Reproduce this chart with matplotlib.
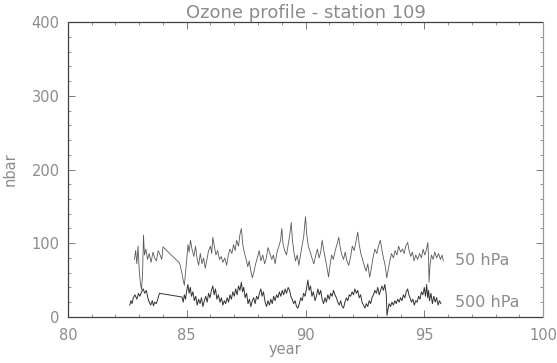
import matplotlib
matplotlib.use("Agg")
import matplotlib.pyplot as plt
from matplotlib.ticker import MultipleLocator

# ozone partial pressure, 50 hPa level
year_50 = [82.80, 82.85, 82.90, 82.95, 83.00, 83.05, 83.10, 83.14, 83.18, 83.22,
           83.28, 83.35, 83.42, 83.50, 83.58, 83.65, 83.72, 83.80, 83.88, 83.95,
           84.00, 84.70, 84.78, 84.85, 84.90, 84.95, 85.00, 85.05, 85.10, 85.16,
           85.22, 85.30, 85.37, 85.44, 85.50, 85.57, 85.64, 85.71, 85.78, 85.85,
           85.92, 86.00, 86.05, 86.10, 86.16, 86.23, 86.30, 86.38, 86.45, 86.52,
           86.60, 86.68, 86.75, 86.82, 86.90, 86.97, 87.04, 87.10, 87.18, 87.24,
           87.30, 87.36, 87.42, 87.50, 87.57, 87.63, 87.70, 87.76, 87.82, 87.90,
           87.97, 88.05, 88.12, 88.20, 88.28, 88.35, 88.42, 88.50, 88.58, 88.65,
           88.72, 88.80, 88.88, 88.95, 89.00, 89.05, 89.12, 89.20, 89.27, 89.33,
           89.40, 89.45, 89.52, 89.58, 89.65, 89.72, 89.78, 89.85, 89.92, 90.00,
           90.05, 90.12, 90.20, 90.27, 90.35, 90.42, 90.50, 90.57, 90.64, 90.70,
           90.77, 90.85, 90.92, 90.97, 91.03, 91.10, 91.17, 91.25, 91.32, 91.40,
           91.46, 91.53, 91.60, 91.67, 91.74, 91.82, 91.90, 91.97, 92.05, 92.12,
           92.20, 92.26, 92.33, 92.40, 92.47, 92.55, 92.62, 92.70, 92.77, 92.84,
           92.92, 93.00, 93.07, 93.15, 93.22, 93.28, 93.35, 93.42, 93.48, 93.55,
           93.62, 93.70, 93.77, 93.85, 93.92, 94.00, 94.08, 94.15, 94.22, 94.30,
           94.36, 94.43, 94.50, 94.57, 94.64, 94.72, 94.80, 94.88, 94.95, 95.02,
           95.08, 95.15, 95.18, 95.20, 95.24, 95.30, 95.37, 95.44, 95.52, 95.60,
           95.68, 95.75, 95.80]
ozone_50 = [78, 90, 72, 96, 64, 45, 37, 58, 111, 84,
            92, 78, 86, 74, 88, 80, 76, 90, 84, 78,
            95, 73, 62, 50, 43, 60, 78, 98, 88, 104,
            92, 82, 96, 78, 70, 86, 72, 80, 66, 78,
            90, 96, 86, 108, 96, 84, 90, 78, 82, 74,
            80, 70, 84, 92, 86, 98, 90, 104, 96, 112,
            120, 98, 88, 78, 68, 76, 62, 53, 60, 72,
            80, 90, 76, 84, 72, 80, 94, 86, 78, 84,
            72, 88, 96, 104, 120, 100, 90, 84, 98, 110,
            128, 104, 86, 76, 84, 70, 82, 96, 108, 136,
            112, 96, 88, 80, 72, 82, 92, 80, 88, 104,
            90, 76, 64, 54, 70, 84, 78, 90, 98, 108,
            94, 84, 78, 88, 76, 70, 82, 96, 90, 102,
            115, 98, 86, 78, 70, 62, 72, 54, 66, 80,
            92, 86, 96, 104, 90, 80, 70, 53, 64, 76,
            86, 80, 90, 84, 96, 88, 92, 86, 96, 101,
            90, 82, 88, 76, 84, 78, 86, 80, 92, 84,
            90, 101, 80, 47, 70, 84, 78, 88, 80, 86,
            78, 84, 76]

# ozone partial pressure, 500 hPa level
year_500 = [82.60, 82.65, 82.70, 82.75, 82.82, 82.90, 82.97, 83.03, 83.10, 83.17,
            83.23, 83.30, 83.36, 83.42, 83.48, 83.55, 83.60, 83.65, 83.72, 83.78,
            83.85, 84.80, 84.85, 84.90, 84.95, 85.00, 85.05, 85.10, 85.15, 85.20,
            85.26, 85.32, 85.38, 85.44, 85.50, 85.56, 85.62, 85.68, 85.74, 85.80,
            85.86, 85.92, 85.98, 86.04, 86.10, 86.15, 86.21, 86.27, 86.33, 86.40,
            86.46, 86.52, 86.58, 86.64, 86.70, 86.76, 86.82, 86.88, 86.94, 87.00,
            87.06, 87.12, 87.18, 87.24, 87.30, 87.35, 87.40, 87.46, 87.52, 87.58,
            87.64, 87.70, 87.76, 87.82, 87.88, 87.94, 88.00, 88.06, 88.12, 88.17,
            88.23, 88.30, 88.36, 88.42, 88.48, 88.54, 88.60, 88.66, 88.72, 88.78,
            88.84, 88.90, 88.96, 89.02, 89.08, 89.14, 89.20, 89.27, 89.33, 89.38,
            89.44, 89.50, 89.56, 89.62, 89.68, 89.74, 89.80, 89.86, 89.92, 89.98,
            90.04, 90.10, 90.15, 90.21, 90.27, 90.33, 90.40, 90.46, 90.52, 90.58,
            90.64, 90.70, 90.76, 90.82, 90.88, 90.94, 91.00, 91.06, 91.12, 91.18,
            91.24, 91.30, 91.36, 91.42, 91.48, 91.54, 91.60, 91.66, 91.72, 91.78,
            91.84, 91.90, 91.96, 92.02, 92.08, 92.14, 92.20, 92.26, 92.32, 92.38,
            92.44, 92.50, 92.56, 92.62, 92.68, 92.74, 92.80, 92.86, 92.92, 92.98,
            93.04, 93.10, 93.16, 93.22, 93.28, 93.34, 93.40, 93.43, 93.47, 93.52,
            93.58, 93.64, 93.70, 93.76, 93.82, 93.88, 93.94, 94.00, 94.06, 94.12,
            94.18, 94.24, 94.30, 94.35, 94.40, 94.46, 94.52, 94.58, 94.64, 94.70,
            94.76, 94.82, 94.88, 94.94, 95.00, 95.05, 95.10, 95.14, 95.18, 95.22,
            95.28, 95.34, 95.40, 95.46, 95.52, 95.58, 95.64, 95.70]
ozone_500 = [16, 22, 18, 26, 30, 24, 32, 28, 34, 38,
             32, 36, 26, 20, 16, 22, 15, 20, 18, 24,
             32, 27, 20, 30, 24, 36, 44, 32, 40, 28,
             34, 22, 28, 16, 24, 18, 26, 14, 22, 28,
             20, 32, 26, 36, 42, 30, 38, 24, 30, 20,
             26, 16, 22, 18, 26, 20, 30, 24, 34, 28,
             38, 30, 42, 36, 47, 34, 40, 26, 32, 18,
             24, 14, 22, 26, 18, 28, 24, 32, 38, 28,
             34, 20, 14, 22, 16, 24, 18, 28, 22, 30,
             26, 34, 28, 36, 30, 38, 32, 40, 36, 28,
             24, 18, 22, 14, 12, 18, 26, 22, 32, 28,
             38, 50, 36, 42, 28, 34, 22, 28, 38, 30,
             36, 24, 18, 26, 20, 30, 24, 32, 28, 36,
             30, 26, 20, 16, 22, 14, 12, 20, 26, 22,
             30, 28, 34, 30, 38, 32, 36, 26, 30, 20,
             16, 12, 18, 14, 22, 18, 26, 30, 36, 32,
             40, 30, 36, 42, 36, 44, 30, 2, 10, 18,
             14, 20, 16, 22, 18, 24, 20, 26, 22, 30,
             26, 34, 38, 30, 26, 20, 24, 16, 22, 20,
             28, 24, 34, 30, 40, 28, 44, 26, 36, 22,
             32, 18, 28, 20, 26, 16, 22, 18]

labels = ["50 hPa", "500 hPa"]
label_pos = [(96.3, 77), (96.3, 20)]

text_grey = "0.55"
fig = plt.figure(figsize=(5.57, 3.63), dpi=100)
ax = fig.add_axes([0.122, 0.127, 0.853, 0.812])

ax.plot(year_50, ozone_50, color="0.35", linewidth=0.6)
ax.plot(year_500, ozone_500, color="0.2", linewidth=0.7)
for lab, (x, y) in zip(labels, label_pos):
    ax.text(x, y, lab, color=text_grey, fontsize=11.5, va="center", ha="left")

ax.set_xlim(80, 100)
ax.set_ylim(0, 400)
ax.xaxis.set_major_locator(MultipleLocator(5))
ax.xaxis.set_minor_locator(MultipleLocator(1))
ax.yaxis.set_major_locator(MultipleLocator(100))
ax.yaxis.set_minor_locator(MultipleLocator(20))
ax.tick_params(which="both", direction="in", top=True, right=True,
               color="0.4", labelcolor=text_grey, labelsize=10.5)
ax.tick_params(which="major", length=5, width=0.6)
ax.tick_params(which="minor", length=2.5, width=0.5)
ax.tick_params(axis="x", which="major", pad=8)
ax.tick_params(axis="y", which="major", pad=6)
for side, spine in ax.spines.items():
    spine.set_linestyle((0, (1, 1)))
    spine.set_linewidth(0.9)
    spine.set_color("0.6" if side == "right" else "0.25")

ax.set_title("Ozone profile - station 109", color=text_grey, fontsize=13, pad=2)
ax.set_xlabel("year", color=text_grey, fontsize=10.5)
ax.xaxis.set_label_coords(0.457, -0.085)
ax.set_ylabel("nbar", color=text_grey, fontsize=10.5)
ax.yaxis.set_label_coords(-0.105, 0.5)

fig.savefig("out.png", dpi=100)
